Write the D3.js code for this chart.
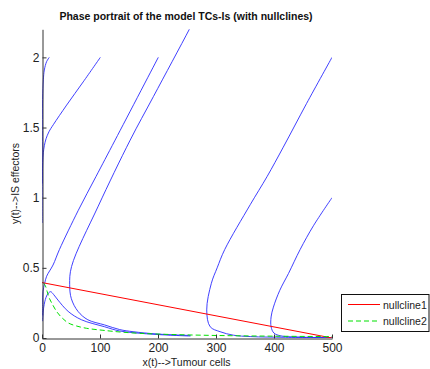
<!DOCTYPE html>
<html>
<head>
<meta charset="utf-8">
<script src="https://cdn.jsdelivr.net/npm/d3@7"></script>
<style>
  body { margin: 0; background: #fff; }
  svg { display: block; font-family: "Liberation Sans", Arial, sans-serif; }
</style>
</head>
<body>
<svg width="430" height="369"></svg>
<script>
// trajectories, [x, y] pairs
var trajA = [[12.6,2.0],[8,1.97],[4,1.91],[2.3,1.84],[1,1.7],[0.6,1.4],[0.4,1.1],[0.3,0.82]]
var trajB = [[100.6,2.0],[71,1.825],[42.5,1.66],[19.5,1.52],[12,1.47],[7,1.42],[4,1.37],[2.3,1.32],[1.2,1.25],[0.6,1.1]]
var trajC = [[200.5,2.0],[126,1.41],[93,1.15],[62.6,0.91],[30,0.63],[19,0.52],[8,0.44],[4.6,0.39],[1.7,0.33],[1.2,0.25],[1.2,0.16]]
var trajD = [[1.0,0.12],[3,0.22],[7,0.29],[11,0.32],[15,0.33],[20,0.31],[27.6,0.27],[45,0.19],[68,0.13],[108,0.08],[134,0.05],[180,0.03],[221,0.02],[256,0.014]]
var trajE = [[270,2.33],[254,2.2],[192,1.72],[152,1.41],[97,0.94],[51,0.51],[47.7,0.38],[50.6,0.28],[62,0.19],[79,0.13],[108,0.093],[134,0.06],[157,0.045],[200,0.028],[256,0.018]]
var trajF = [[500,2.0],[456,1.67],[416,1.36],[388,1.15],[359,0.95],[315,0.63],[302,0.5],[292,0.39],[284,0.2],[290,0.08],[307,0.045],[330,0.02],[360,0.01],[420,0.005],[500,0.002]]
var trajG = [[500,1.0],[468,0.8],[445,0.63],[425,0.46],[410,0.34],[399,0.22],[395,0.15],[395,0.08],[400,0.035],[412,0.015],[450,0.006],[500,0.002]]

var nullcline1 = [[0,0.395],[500,0]]
var nullcline2 = [[3,0.39],[6,0.37],[9,0.33],[13,0.28],[18,0.24],[25,0.19],[33,0.15],[45,0.108],[60,0.085],[77,0.069],[105,0.055],[143,0.04],[200,0.028],[300,0.018],[400,0.013],[500,0.01]]

var xTicks = [0,100,200,300,400,500]
var yTicks = [0,0.5,1,1.5,2]
var legendNames = ["nullcline1","nullcline2"]

var svg = d3.select("svg")
var x = d3.scaleLinear().domain([0,500]).range([42,332])
var y = d3.scaleLinear().domain([0,2.2]).range([338,29.3])

svg.append("clipPath").attr("id","clip")
  .append("rect").attr("x",42).attr("y",29.3).attr("width",290).attr("height",308.7)

var line = d3.line().x(d => x(d[0])).y(d => y(d[1])).curve(d3.curveCatmullRom.alpha(0.5))

var plot = svg.append("g").attr("clip-path","url(#clip)")

// blue trajectories
plot.selectAll("path.traj")
  .data([trajA,trajB,trajC,trajD,trajE,trajF,trajG])
  .enter().append("path")
  .attr("class","traj")
  .attr("d", line)
  .attr("fill","none")
  .attr("stroke","#2a2aff")
  .attr("stroke-width",0.9)

plot.append("path").attr("d", line(nullcline1))
  .attr("fill","none").attr("stroke","#ff0000").attr("stroke-width",1)
plot.append("path").attr("d", line(nullcline2))
  .attr("fill","none").attr("stroke","#00e000").attr("stroke-width",1)
  .attr("stroke-dasharray","5,3")

// axes, ticks point inward like matlab
var xAxis = svg.append("g").attr("transform","translate(0,338.5)")
  .call(d3.axisBottom(x).tickValues(xTicks).tickSize(-4).tickSizeOuter(0).tickPadding(5).tickFormat(d => d))
var yAxis = svg.append("g").attr("transform","translate(42.5,0)")
  .call(d3.axisLeft(y).tickValues(yTicks).tickSize(-4).tickSizeOuter(0).tickPadding(3).tickFormat(d => d))

svg.selectAll(".tick text").attr("font-size",12).attr("font-family","Liberation Sans").attr("fill","#222")
svg.selectAll(".domain, .tick line").attr("stroke","#333")

svg.append("text").attr("x",186).attr("y",19.5).attr("text-anchor","middle")
  .attr("font-size",10.5).attr("font-weight","bold").attr("fill","#111")
  .text("Phase portrait of the model TCs-Is (with nullclines)")

svg.append("text").attr("x",186.5).attr("y",366).attr("text-anchor","middle")
  .attr("font-size",10.5).attr("fill","#222")
  .text("x(t)-->Tumour cells")

svg.append("text").attr("transform","translate(18.5,183.5) rotate(-90)").attr("text-anchor","middle")
  .attr("font-size",10.5).attr("fill","#222")
  .text("y(t)-->IS effectors")

// legend
var lg = svg.append("g")
lg.append("rect").attr("x",341.5).attr("y",294.5).attr("width",87.5).attr("height",37)
  .attr("fill","#fff").attr("stroke","#111")
var rows = lg.selectAll("g.row").data(legendNames).enter().append("g")
  .attr("transform",(d,i) => "translate(0," + (304.5 + i*16.5) + ")")
rows.append("line").attr("x1",348).attr("x2",380)
  .attr("stroke",(d,i) => i ? "#00e000" : "#ff0000")
  .attr("stroke-dasharray",(d,i) => i ? "5,3" : null)
rows.append("text").attr("x",383).attr("y",4).attr("font-size",10.5).attr("fill","#222").text(d => d)
</script>
</body>
</html>
